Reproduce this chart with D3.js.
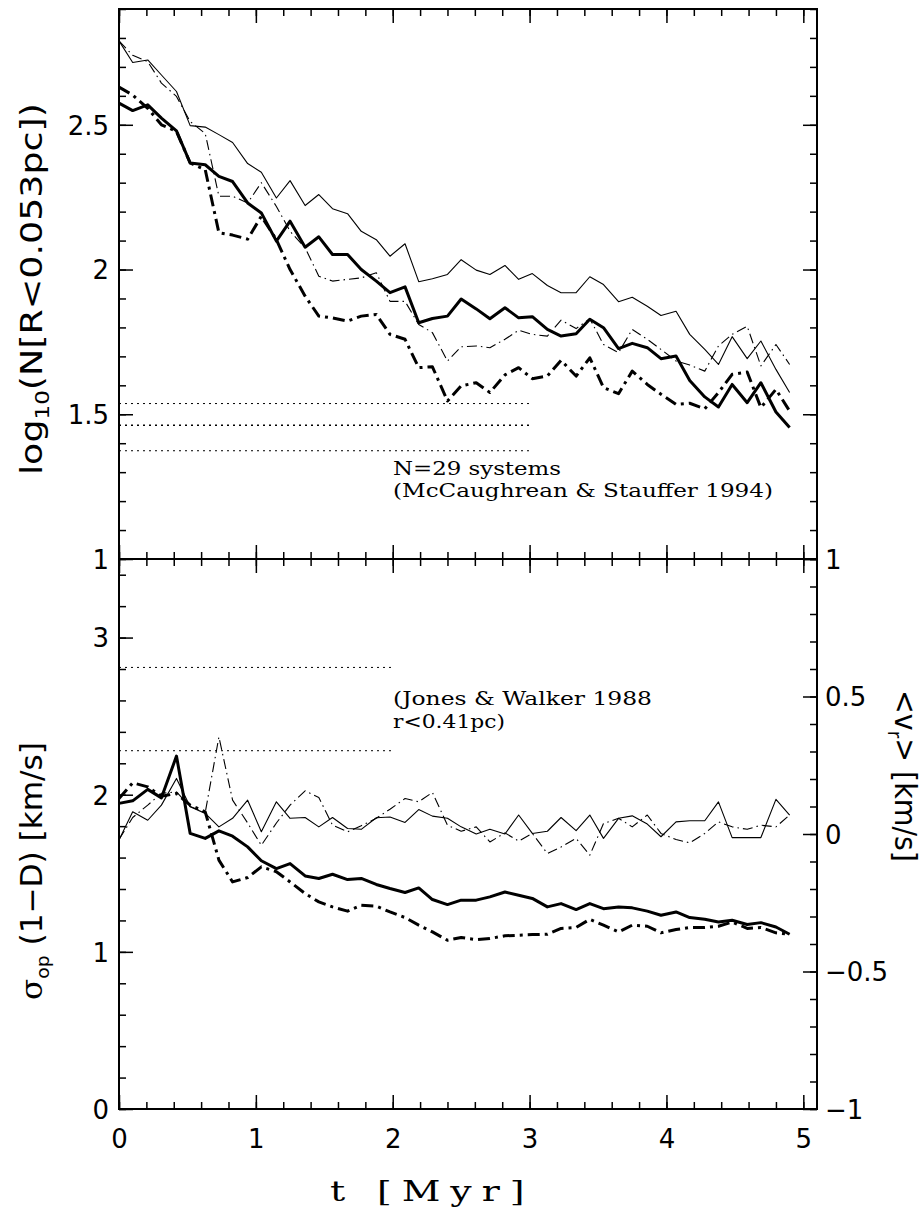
<!DOCTYPE html>
<html>
<head>
<meta charset="utf-8">
<script src="https://cdn.jsdelivr.net/npm/d3@7"></script>
<style>
body { margin: 0; background: #fff; }
.tick text { font-family: "DejaVu Sans", sans-serif; font-size: 26px; fill: #000; }
.tick line { stroke: #000; stroke-width: 1.5; }
.note { font-family: "DejaVu Serif", serif; font-size: 19px; fill: #000; }
.lab { font-family: "DejaVu Sans", sans-serif; font-size: 30px; fill: #000; }
</style>
</head>
<body>
<svg id="chart" width="924" height="1211"></svg>
<script>
// snapshot times [Myr]
const time = [0.00,0.10,0.21,0.31,0.42,0.52,0.63,0.73,0.83,0.94,1.04,1.15,1.25,1.36,1.46,1.56,1.67,1.77,1.88,1.98,
  2.09,2.19,2.29,2.40,2.50,2.61,2.71,2.82,2.92,3.02,3.13,3.23,3.34,3.44,3.54,3.65,3.75,3.86,3.96,4.07,
  4.17,4.28,4.38,4.48,4.59,4.69,4.80,4.90];

// top panel: log10 N(R<0.053pc)
const nThin = [2.79,2.715,2.724,2.672,2.615,2.497,2.492,2.466,2.439,2.366,2.336,2.247,2.307,2.221,2.259,2.21,2.193,2.132,2.103,2.046,
  2.089,1.958,1.968,1.983,2.034,1.998,1.983,2.014,1.966,1.986,1.945,1.92,1.92,1.975,1.948,1.889,1.904,1.873,1.841,1.856,
  1.776,1.724,1.672,1.768,1.692,1.753,1.655,1.575];
const nThinDash = [2.79,2.74,2.718,2.644,2.598,2.511,2.47,2.253,2.253,2.23,2.30,2.218,2.132,2.075,1.977,1.96,1.966,1.971,1.989,1.89,
  1.89,1.81,1.782,1.684,1.733,1.736,1.73,1.759,1.79,1.776,1.77,1.825,1.796,1.83,1.741,1.713,1.793,1.759,1.724,1.684,
  1.67,1.649,1.736,1.776,1.804,1.667,1.741,1.672];
const nThick = [2.575,2.549,2.569,2.523,2.479,2.368,2.362,2.322,2.304,2.23,2.195,2.098,2.167,2.077,2.113,2.052,2.052,2.0,1.96,1.92,
  1.94,1.816,1.831,1.839,1.898,1.864,1.83,1.868,1.833,1.837,1.793,1.77,1.778,1.828,1.799,1.727,1.745,1.73,1.692,1.701,
  1.617,1.56,1.525,1.603,1.54,1.609,1.508,1.454];
const nThickDash = [2.63,2.603,2.557,2.5,2.477,2.368,2.345,2.127,2.119,2.105,2.184,2.103,2.0,1.908,1.839,1.833,1.822,1.839,1.845,1.776,
  1.759,1.661,1.664,1.546,1.598,1.609,1.575,1.636,1.661,1.623,1.632,1.686,1.632,1.695,1.592,1.571,1.649,1.603,1.569,1.534,
  1.538,1.519,1.575,1.638,1.646,1.523,1.586,1.511];

// bottom panel: sigma (left axis) and <v_r> (right axis)
const sigThick = [1.945,1.961,2.034,1.98,2.246,1.754,1.722,1.77,1.736,1.668,1.58,1.53,1.562,1.483,1.467,1.494,1.46,1.467,1.429,1.403,
  1.378,1.407,1.333,1.301,1.329,1.329,1.35,1.381,1.36,1.34,1.286,1.307,1.269,1.307,1.275,1.286,1.28,1.259,1.233,1.254,
  1.218,1.207,1.19,1.201,1.174,1.186,1.158,1.112];
const sigThickDash = [1.976,2.076,2.05,1.99,2.008,1.934,1.891,1.584,1.445,1.473,1.541,1.51,1.445,1.371,1.318,1.286,1.259,1.297,1.291,1.254,
  1.218,1.17,1.127,1.074,1.091,1.078,1.085,1.102,1.106,1.11,1.112,1.149,1.155,1.207,1.17,1.127,1.17,1.163,1.121,1.142,
  1.155,1.155,1.163,1.19,1.149,1.155,1.121,1.112];
const vrThin = [-0.022,0.081,0.05,0.105,0.202,0.099,0.075,0.026,0.057,0.123,0.008,0.117,0.057,0.06,0.026,0.06,0.02,0.017,0.059,0.062,
  0.042,0.089,0.065,0.057,0.026,0.0,0.017,0.0,0.069,0.002,0.01,0.06,0.012,0.069,-0.016,0.057,0.066,0.036,-0.01,0.044,
  0.048,0.048,0.117,-0.013,-0.013,-0.013,0.126,0.069];
const vrThinDash = [-0.02,0.06,0.105,0.148,0.153,0.10,0.078,0.353,0.123,0.04,-0.041,0.04,0.105,0.157,0.133,0.032,0.008,0.03,0.057,0.09,
  0.129,0.117,0.151,0.032,0.01,0.026,-0.029,0.004,-0.026,0.002,-0.071,-0.047,-0.016,-0.077,0.038,0.057,0.026,0.069,0.002,-0.02,
  -0.032,0.002,0.044,0.026,0.017,0.032,0.026,0.069];

// observed values (horizontal dotted lines)
const nObs = [1.537, 1.462, 1.374];
const nObsEnd = 3;
const sigObs = [2.81, 2.28];
const sigObsEnd = 2;

// tick values
const xMajor = [0, 1, 2, 3, 4, 5];
const xMinor = d3.range(0, 5.01, 0.2);
const nMajor = [1, 1.5, 2, 2.5];
const nMinor = d3.range(1, 2.91, 0.1);
const sigMajor = [0, 1, 2, 3];
const sigMinor = d3.range(0, 3.51, 0.2);
const vrMajor = [-1, -0.5, 0, 0.5, 1];
const vrMinor = d3.range(-1, 1.01, 0.1);

const svg = d3.select('#chart');
const L = 119, R = 817, T = 9, M = 559, B = 1109;

const x = d3.scaleLinear().domain([0, 5.1]).range([L, R]);
const yN = d3.scaleLinear().domain([1, 2.9]).range([M, T]);
const yS = d3.scaleLinear().domain([0, 3.5]).range([B, M]);
const yV = d3.scaleLinear().domain([-1, 1]).range([B, M]);

function fmt(d) { return String(d).replace('-', '\u2212'); }

// ticks on one side of a panel; inward ticks via negative size
function ticks(axisFn, scale, major, minor, ty, tx, labels) {
    const gMin = svg.append('g').attr('transform', `translate(${tx},${ty})`)
        .call(axisFn(scale).tickValues(minor).tickSize(-7).tickFormat(''));
    gMin.select('.domain').remove();
    const gMaj = svg.append('g').attr('transform', `translate(${tx},${ty})`)
        .call(axisFn(scale).tickValues(major).tickSize(-14).tickPadding(22)
            .tickFormat(labels ? fmt : ''));
    gMaj.select('.domain').remove();
    return gMaj;
}

// top panel
ticks(d3.axisBottom, x, xMajor, xMinor, M, 0, false);
ticks(d3.axisTop, x, xMajor, xMinor, T, 0, false);
ticks(d3.axisLeft, yN, nMajor, nMinor, 0, L, true).selectAll('text').attr('dy', '0.36em').attr('x', -10);
ticks(d3.axisRight, yN, nMajor, nMinor, 0, R, false);

// bottom panel
const gbx = ticks(d3.axisBottom, x, xMajor, xMinor, B, 0, true);
gbx.selectAll('text').attr('y', 21).attr('dy', '0.71em');
ticks(d3.axisTop, x, xMajor, xMinor, M, 0, false);
ticks(d3.axisLeft, yS, sigMajor, sigMinor, 0, L, true).selectAll('text').attr('dy', '0.36em').attr('x', -10);
ticks(d3.axisRight, yV, vrMajor, vrMinor, 0, R, true).selectAll('text').attr('dy', '0.36em').attr('x', 8);

// frames
[[T, M], [M, B]].forEach(([a, b]) => {
    svg.append('rect').attr('x', L).attr('y', a).attr('width', R - L).attr('height', b - a)
        .attr('fill', 'none').attr('stroke', '#000').attr('stroke-width', 2);
});

const styles = {
    thin: { w: 1.1, dash: null },
    thinDash: { w: 1.1, dash: '10,4,1.5,4' },
    thick: { w: 3, dash: null },
    thickDash: { w: 3, dash: '12,5,3,5' }
};

function drawLine(vals, yScale, st) {
    const line = d3.line().x((d, i) => x(time[i])).y(d => yScale(d));
    svg.append('path').datum(vals)
        .attr('d', line)
        .attr('fill', 'none')
        .attr('stroke', '#000')
        .attr('stroke-width', st.w)
        .attr('stroke-linejoin', 'round')
        .attr('stroke-dasharray', st.dash);
}

drawLine(nThin, yN, styles.thin);
drawLine(nThinDash, yN, styles.thinDash);
drawLine(nThick, yN, styles.thick);
drawLine(nThickDash, yN, styles.thickDash);

drawLine(vrThin, yV, styles.thin);
drawLine(vrThinDash, yV, styles.thinDash);
drawLine(sigThick, yS, styles.thick);
drawLine(sigThickDash, yS, styles.thickDash);

// observational reference lines
nObs.forEach((v, i) => {
    svg.append('line').attr('x1', x(0)).attr('x2', x(nObsEnd)).attr('y1', yN(v)).attr('y2', yN(v))
        .attr('stroke', '#000').attr('stroke-width', i === 1 ? 1.6 : 1).attr('stroke-dasharray', '2,4');
});
sigObs.forEach(v => {
    svg.append('line').attr('x1', x(0)).attr('x2', x(sigObsEnd)).attr('y1', yS(v)).attr('y2', yS(v))
        .attr('stroke', '#000').attr('stroke-width', 1).attr('stroke-dasharray', '2,4');
});

// annotations
function note(tx, ty, len, s) {
    svg.append('text').attr('class', 'note').attr('x', tx).attr('y', ty)
        .attr('textLength', len).attr('lengthAdjust', 'spacingAndGlyphs').text(s);
}
note(393, 475, 168, 'N=29 systems');
note(393, 497, 380, '(McCaughrean & Stauffer 1994)');
note(393, 705, 259, '(Jones & Walker 1988');
note(393, 728, 112, 'r<0.41pc)');

// axis titles
svg.append('text').attr('class', 'note').style('font-size', '28px')
    .attr('transform', 'translate(330,1201) scale(1.35,1)')
    .attr('textLength', 144).attr('lengthAdjust', 'spacing').text('t [Myr]');

const yl1 = svg.append('text').attr('class', 'lab').attr('transform', 'translate(42,475) rotate(-90)')
    .attr('textLength', 372).attr('lengthAdjust', 'spacingAndGlyphs');
yl1.append('tspan').text('log');
yl1.append('tspan').attr('dy', 7).style('font-size', '19px').text('10');
yl1.append('tspan').attr('dy', -7).text('(N[R<0.053pc])');

const yl2 = svg.append('text').attr('class', 'lab').attr('transform', 'translate(42,1000) rotate(-90)')
    .attr('textLength', 258).attr('lengthAdjust', 'spacingAndGlyphs');
yl2.append('tspan').style('font-family', '"DejaVu Serif", serif').text('σ');
yl2.append('tspan').attr('dy', 7).style('font-size', '18px').text('op');
yl2.append('tspan').attr('dy', -7).text(' (1\u2212D) [km/s]');

const yl3 = svg.append('text').attr('class', 'lab').attr('transform', 'translate(895,690) rotate(90)')
    .attr('textLength', 172).attr('lengthAdjust', 'spacingAndGlyphs');
yl3.append('tspan').text('<v');
yl3.append('tspan').attr('dy', 7).style('font-size', '19px').text('r');
yl3.append('tspan').attr('dy', -7).text('> [km/s]');
</script>
</body>
</html>
